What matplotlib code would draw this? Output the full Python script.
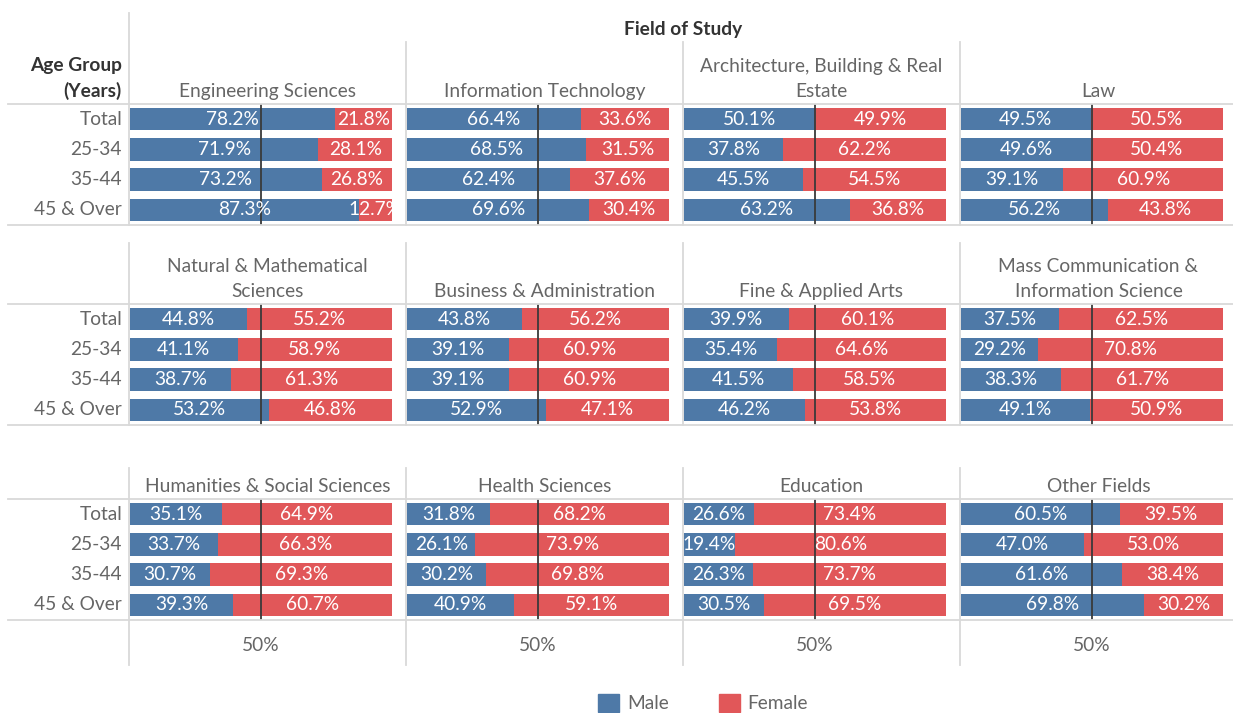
import matplotlib.pyplot as plt
from matplotlib.lines import Line2D
from matplotlib.patches import Patch

plt.rcParams['font.family'] = ['Lato', 'DejaVu Sans']

# Daten
age_groups = ['Total', '25-34', '35-44', '45 & Over']
fields = [
    'Engineering Sciences', 'Information Technology', 'Architecture, Building & Real\nEstate', 'Law',
    'Natural & Mathematical\nSciences', 'Business & Administration', 'Fine & Applied Arts',
    'Mass Communication &\nInformation Science',
    'Humanities & Social Sciences', 'Health Sciences', 'Education', 'Other Fields',
]
male = [
    [78.2, 71.9, 73.2, 87.3], [66.4, 68.5, 62.4, 69.6], [50.1, 37.8, 45.5, 63.2], [49.5, 49.6, 39.1, 56.2],
    [44.8, 41.1, 38.7, 53.2], [43.8, 39.1, 39.1, 52.9], [39.9, 35.4, 41.5, 46.2], [37.5, 29.2, 38.3, 49.1],
    [35.1, 33.7, 30.7, 39.3], [31.8, 26.1, 30.2, 40.9], [26.6, 19.4, 26.3, 30.5], [60.5, 47.0, 61.6, 69.8],
]
female = [
    [21.8, 28.1, 26.8, 12.7], [33.6, 31.5, 37.6, 30.4], [49.9, 62.2, 54.5, 36.8], [50.5, 50.4, 60.9, 43.8],
    [55.2, 58.9, 61.3, 46.8], [56.2, 60.9, 60.9, 47.1], [60.1, 64.6, 58.5, 53.8], [62.5, 70.8, 61.7, 50.9],
    [64.9, 66.3, 69.3, 60.7], [68.2, 73.9, 69.8, 59.1], [73.4, 80.6, 73.7, 69.5], [39.5, 53.0, 38.4, 30.2],
]

W, H = 1233, 713
c_male = '#4e79a7'
c_female = '#e15759'
c_grid = '#d9d9d9'
c_text = '#666666'
fs = 13.8


def fx(x):
    return x / W


def fy(y):
    return 1 - y / H


fig = plt.figure(figsize=(W / 100, H / 100), dpi=100)

col_left = [129, 406, 683, 960]
col_w = 277
bar_px = 262
row_top = [104, 304, 499]
row_h = 121
head_top = [42, 243, 468]

for i, field in enumerate(fields):
    r, c = divmod(i, 4)
    x0 = col_left[c] + 1
    y0 = row_top[r] + row_h
    ax = fig.add_axes([fx(x0), fy(y0), col_w / W, row_h / H])
    ax.set_xlim(0, col_w / bar_px)
    ax.set_ylim(3.5, -0.5)
    m = [v / 100 for v in male[i]]
    f = [v / 100 for v in female[i]]
    ax.barh(range(4), m, height=0.75, color=c_male)
    ax.barh(range(4), f, left=m, height=0.75, color=c_female)
    ax.axvline(0.5, color='#3a3a3a', lw=1.3)
    for j in range(4):
        ax.text(m[j] / 2, j, f'{male[i][j]:.1f}%', ha='center', va='center', color='white', fontsize=fs)
        ax.text(m[j] + f[j] / 2, j, f'{female[i][j]:.1f}%', ha='center', va='center', color='white', fontsize=fs)
    for s in ax.spines.values():
        s.set_visible(False)
    ax.set_yticks([])
    if r == 2:
        ax.set_xticks([0.5])
        ax.set_xticklabels(['50%'], color=c_text, fontsize=fs)
        ax.tick_params(axis='x', length=0, pad=12)
    else:
        ax.set_xticks([])
    # Feldtitel
    fig.text(fx(col_left[c] + col_w / 2), fy(row_top[r] - 4), field, ha='center', va='bottom',
             color=c_text, fontsize=fs, linespacing=1.55)

# Zeilenbeschriftungen
for r in range(3):
    for j, g in enumerate(age_groups):
        y = row_top[r] + (j + 0.5) * row_h / 4
        fig.text(fx(122), fy(y), g, ha='right', va='center', color=c_text, fontsize=fs)

fig.text(fx(122), fy(100), 'Age Group\n(Years)', ha='right', va='bottom', color='#333333',
         fontsize=fs, fontweight='bold', linespacing=1.55)
fig.text(fx(683), fy(29), 'Field of Study', ha='center', va='center', color='#333333',
         fontsize=fs, fontweight='bold')

# Gitterlinien
for r in range(3):
    for y in (row_top[r], row_top[r] + row_h):
        fig.add_artist(Line2D([fx(8), 1], [fy(y), fy(y)], color=c_grid, lw=1.3, transform=fig.transFigure))
    bottom = row_top[r] + row_h if r < 2 else 665
    for c, x in enumerate(col_left):
        top = 13 if (r == 0 and c == 0) else head_top[r]
        fig.add_artist(Line2D([fx(x), fx(x)], [fy(top), fy(bottom)], color=c_grid, lw=1.3,
                              transform=fig.transFigure))

# Legende
handles = [Patch(color=c_male, label='Male'), Patch(color=c_female, label='Female')]
fig.legend(handles=handles, loc='center', bbox_to_anchor=(fx(703), fy(703)), ncol=2, frameon=False,
           fontsize=fs, handlelength=1.1, handleheight=1.1, handletextpad=0.4, columnspacing=2.6,
           labelcolor=c_text)

plt.savefig('out.png', dpi=100)
